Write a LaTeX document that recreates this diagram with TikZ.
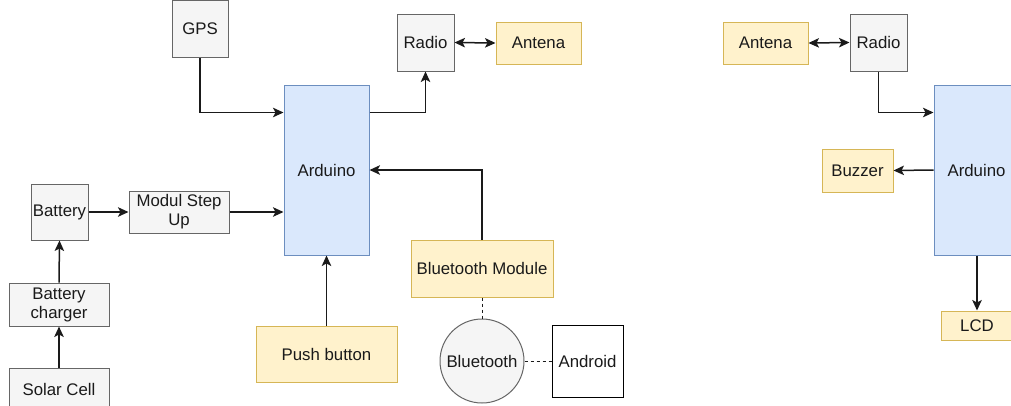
\documentclass[tikz,border=0pt]{standalone}
\usepackage{fontspec}
\setmainfont{Liberation Sans}
\usetikzlibrary{arrows.meta, positioning}
\definecolor{greyfill}{HTML}{F5F5F5}
\definecolor{greyline}{HTML}{666666}
\definecolor{bluefill}{HTML}{DAE8FC}
\definecolor{blueline}{HTML}{6C8EBF}
\definecolor{yelfill}{HTML}{FFF2CC}
\definecolor{yelline}{HTML}{D6B656}
\definecolor{ink}{HTML}{1A1A1A}
\tikzset{
>={Stealth[length=10.5pt,width=9.5pt,inset=2.5pt]}, % filled heads like the drawing tool
box/.style={draw, rectangle, inner sep=0pt, align=center, line width=1pt,
  text=ink, font=\fontsize{16.8}{19}\selectfont},
wh/.style 2 args={minimum width=#1pt, minimum height=#2pt}, % box size in px
greybox/.style={box, fill=greyfill, draw=greyline},
bluebox/.style={box, fill=bluefill, draw=blueline},
yelbox/.style={box, fill=yelfill, draw=yelline},
link/.style={->, line width=1.5pt, draw=ink},
dots/.style={line width=1pt, draw=ink, dash pattern=on 3pt off 3pt},
}

\begin{document}
\begin{tikzpicture}[x=1pt, y=-1pt]
  \useasboundingbox (0,0) rectangle (1011,405);
  \clip (0,0) rectangle (1011,405);

  % left unit
  \node[greybox, wh={56}{57}] (gps) at (200,29) {GPS};
  \node[bluebox, wh={85}{170}] (ard) at (326.5,170) {Arduino};
  \node[greybox, wh={57}{56}] (bat) at (59.5,212) {Battery};
  \node[greybox, wh={100}{42}] (step) at (179,212) {Modul Step\\Up};
  \node[greybox, wh={100}{43}] (chg) at (59,304.5) {Battery\\charger};
  \node[greybox, wh={100}{43}] (sol) at (59,389.5) {Solar Cell};
  \node[yelbox, wh={141}{56}] (push) at (326.5,354) {Push button};
  \node[greybox, wh={57}{57}] (rad) at (425.5,42.5) {Radio};
  \node[yelbox, wh={85}{42}] (ant) at (538.5,43) {Antena};
  \node[yelbox, wh={142}{57}] (btm) at (482,268.5) {Bluetooth Module};
  \node[circle, draw=greyline, fill=greyfill, line width=1pt, minimum size=84pt,
    inner sep=0pt, text=ink, font=\fontsize{16.8}{19}\selectfont] (bt) at (482,361) {Bluetooth};
  \node[box, fill=white, draw=black, wh={71}{72}] (andr) at (587.5,361) {Android};

  % right unit
  \node[yelbox, wh={85}{42}] (ant2) at (765.5,43) {Antena};
  \node[greybox, wh={57}{57}] (rad2) at (878.5,42.5) {Radio};
  \node[bluebox, wh={85}{170}] (ard2) at (976.5,170) {Arduino};
  \node[yelbox, wh={71}{43}] (buz) at (857.5,170.5) {Buzzer};
  \node[yelbox, wh={72}{29}] (lcd) at (977,325.5) {LCD};

  \draw[link] (gps.south) |- ([yshift=-28pt]ard.north west);
  \draw[link] (bat.east) -- (step.west);
  \draw[link] (step.east) -- (step.east -| ard.west);
  \draw[link] (chg.north) -- (bat.south);
  \draw[link] (sol.north) -- (chg.south);
  \draw[link] (push.north) -- (push.north |- ard.south);
  \draw[link] ([yshift=-28pt]ard.north east) -| (rad.south);
  \draw[link, <->] (rad.east) -- (ant.west);
  \draw[link] (btm.north) |- (ard.east);
  \draw[dots] (btm.south) -- (bt.north);
  \draw[dots] (bt.east) -- (andr.west);

  \draw[link, <->] (ant2.east) -- (rad2.west);
  \draw[link] (rad2.south) |- ([yshift=-28pt]ard2.north west);
  \draw[link] (ard2.west) -- (buz.east);
  \draw[link] (lcd.north |- ard2.south) -- (lcd.north);
\end{tikzpicture}
\end{document}
